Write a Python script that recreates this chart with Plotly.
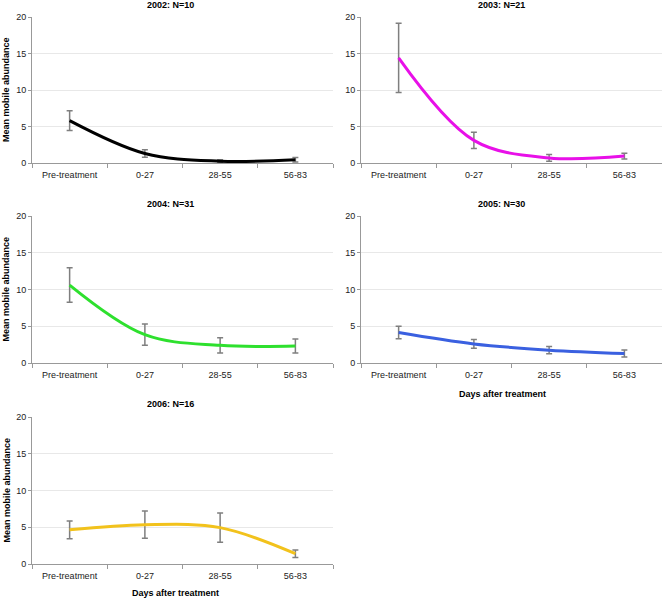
import plotly.graph_objects as go

# ---- data ----
categories = ["Pre-treatment", "0-27", "28-55", "56-83"]
titles = ["2002: N=10", "2003: N=21", "2004: N=31", "2005: N=30", "2006: N=16"]

mean_2002 = [5.8, 1.3, 0.25, 0.45]
err_2002 = [1.35, 0.5, 0.2, 0.3]
mean_2003 = [14.4, 3.1, 0.7, 0.95]
err_2003 = [4.75, 1.1, 0.45, 0.4]
mean_2004 = [10.6, 3.85, 2.4, 2.3]
err_2004 = [2.35, 1.45, 1.05, 0.95]
mean_2005 = [4.15, 2.6, 1.75, 1.3]
err_2005 = [0.85, 0.6, 0.5, 0.48]
mean_2006 = [4.65, 5.35, 4.95, 1.4]
err_2006 = [1.2, 1.85, 2.0, 0.5]

means = [mean_2002, mean_2003, mean_2004, mean_2005, mean_2006]
errs = [err_2002, err_2003, err_2004, err_2005, err_2006]
colors = ["#000000", "#E810E8", "#2EE02E", "#3A60E0", "#F2C21C"]

y_title = "Mean mobile abundance"
x_title = "Days after treatment"

# ---- layout geometry (pixels) ----
W, H = 662, 600
FONT = "Liberation Sans, Arial, sans-serif"
# (x0, x1, ytop, ybottom) of each plot area
panels = [(32, 333, 17, 163), (361, 662, 17, 163),
          (32, 333, 216, 363), (361, 662, 216, 363),
          (32, 333, 417, 564)]
title_pos = [(170, 5), (501, 5), (170, 204), (501, 204), (170, 404)]


def fx(p):
    return p / W


def fy(p):
    return 1 - p / H


fig = go.Figure()
annotations = []
layout = {}

for i, (m, e, c) in enumerate(zip(means, errs, colors)):
    n = i + 1
    sx = "" if n == 1 else str(n)
    fig.add_trace(go.Scatter(
        x=categories, y=m, mode="lines",
        line=dict(color=c, width=3, shape="spline", smoothing=1.0),
        error_y=dict(type="data", array=e, visible=True,
                     color="#7f7f7f", thickness=1.5, width=3),
        xaxis="x" + sx, yaxis="y" + sx, showlegend=False, hoverinfo="skip",
    ))
    x0, x1, yt, yb = panels[i]
    layout["xaxis" + sx] = dict(
        domain=[fx(x0), fx(x1)], anchor="y" + sx, type="category",
        categoryorder="array", categoryarray=categories,
        range=[-0.5, 3.5], tickson="boundaries", ticks="outside", ticklen=4,
        tickcolor="#999999", showline=True, linecolor="#999999", linewidth=1,
        showgrid=False, zeroline=False, automargin=False, ticklabelstandoff=3,
        tickfont=dict(family=FONT, size=9, color="#222222"), fixedrange=True,
    )
    layout["yaxis" + sx] = dict(
        domain=[fy(yb), fy(yt)], anchor="x" + sx, range=[0, 20], dtick=5,
        tick0=0, ticks="outside", ticklen=3, tickcolor="#999999",
        showline=True, linecolor="#999999", linewidth=1,
        showgrid=True, gridcolor="#E8E8E8", gridwidth=1, zeroline=False,
        automargin=False, tickfont=dict(family=FONT, size=9, color="#222222"),
        fixedrange=True,
    )
    tx, ty = title_pos[i]
    annotations.append(dict(
        text="<b>%s</b>" % titles[i], x=fx(tx), y=fy(ty), xref="paper", yref="paper",
        xanchor="center", yanchor="middle", showarrow=False,
        font=dict(family=FONT, size=9, color="#000000")))
    if x0 < 100:
        annotations.append(dict(
            text="<b>%s</b>" % y_title, x=fx(6), y=fy((yt + yb) / 2),
            xref="paper", yref="paper", xanchor="center", yanchor="middle",
            textangle=-90, showarrow=False,
            font=dict(family=FONT, size=9, color="#000000")))

for (tx, ty) in [(503, 394), (175, 593)]:
    annotations.append(dict(
        text="<b>%s</b>" % x_title, x=fx(tx), y=fy(ty), xref="paper", yref="paper",
        xanchor="center", yanchor="middle", showarrow=False,
        font=dict(family=FONT, size=9, color="#000000")))

fig.update_layout(
    width=W, height=H, margin=dict(l=0, r=0, t=0, b=0),
    paper_bgcolor="white", plot_bgcolor="white",
    annotations=annotations, showlegend=False, hovermode=False,
    font=dict(family=FONT),
    **layout,
)

fig.write_html("out.html", config={"displayModeBar": False},
               post_script="document.body.style.margin='0';document.body.style.overflow='hidden';")
